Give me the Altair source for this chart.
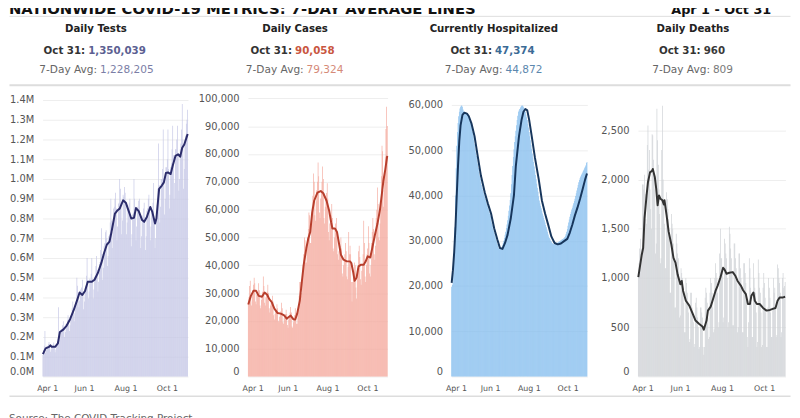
import altair as alt
import pandas as pd

# ---------------- data ----------------
N_DAYS = 214  # Apr 1 .. Oct 31, day 0 = Apr 1
x_tick_days = [0, 61, 122, 183]
x_tick_labels = ["Apr 1", "Jun 1", "Aug 1", "Oct 1"]

chart_title = "NATIONWIDE COVID-19 METRICS: 7-DAY AVERAGE LINES"
date_range = "Apr 1 - Oct 31"
source_text = "Source: The COVID Tracking Project"
panel_titles = ["Daily Tests", "Daily Cases", "Currently Hospitalized", "Daily Deaths"]
last_day_label = "Oct 31:"
avg_label = "7-Day Avg:"
last_day_values = ["1,350,039", "90,058", "47,374", "960"]
avg_values = ["1,228,205", "79,324", "44,872", "809"]

# daily tests (thousands)
tests_daily_k = [
    110, 135, 155, 230, 120, 133, 155,
    150, 165, 175, 155, 125, 137, 157,
    150, 162, 172, 153, 123, 137, 160,
    165, 180, 350, 215, 185, 207, 240,
    240, 260, 280, 250, 200, 225, 265,
    265, 285, 310, 285, 230, 260, 305,
    310, 345, 380, 340, 280, 320, 375,
    385, 500, 460, 420, 350, 385, 440,
    430, 450, 490, 425, 340, 380, 445,
    460, 510, 600, 490, 395, 430, 495,
    490, 520, 600, 495, 395, 440, 505,
    510, 560, 610, 540, 430, 480, 570,
    580, 640, 750, 620, 490, 550, 660,
    675, 730, 740, 700, 560, 610, 710,
    720, 780, 900, 790, 650, 730, 850,
    860, 900, 930, 850, 690, 760, 875,
    880, 1000, 950, 880, 720, 790, 920,
    910, 960, 930, 880, 720, 780, 870,
    850, 880, 900, 820, 660, 720, 820,
    830, 1000, 900, 860, 690, 760, 860,
    850, 890, 900, 810, 650, 710, 815,
    800, 850, 880, 810, 640, 710, 840,
    850, 900, 920, 860, 690, 760, 860,
    840, 880, 980, 800, 650, 700, 830,
    870, 950, 1180, 970, 780, 860, 1000,
    1000, 1050, 1250, 1000, 820, 900, 1060,
    1060, 1100, 1250, 1050, 850, 920, 1060,
    1080, 1150, 1270, 1120, 900, 980, 1150,
    1150, 1200, 1270, 1130, 940, 1000, 1150,
    1180, 1250, 1380, 1200, 950, 1050, 1200,
    1220, 1280, 1300, 1350.039,
]
tests_avg_days = [0, 4, 9, 11, 13, 18, 22, 25, 30, 35, 40, 45, 50, 54, 58, 62, 66, 72, 76, 81,
                  86, 90, 94, 98, 101, 106, 110, 113, 118, 122, 125, 130, 134, 137, 141, 146, 149,
                  153, 158, 161, 165, 167, 171, 175, 178, 181, 184, 188, 191, 195, 199, 202, 205,
                  208, 212, 213]
tests_avg_k = [113, 142, 150, 158, 150, 150, 167, 225, 237, 258, 290, 333, 383, 425, 413, 433, 480,
               480, 490, 525, 575, 625, 667, 683, 733, 825, 842, 850, 892, 880, 850, 800, 803, 853,
               837, 792, 783, 808, 858, 833, 775, 800, 950, 967, 983, 1030, 1033, 1025, 1067, 1117,
               1125, 1113, 1158, 1175, 1217, 1228.205]

# daily cases (thousands)
cases_daily_k = [
    26.1, 28.5, 32.5, 34.4, 27, 25.5, 29.5,
    31, 33, 35.5, 33.5, 27, 26, 29.5,
    30, 31, 33.5, 31, 25.5, 24.5, 27.5,
    29, 30.5, 36, 32.5, 26.5, 25.5, 28.5,
    29.5, 30.5, 33, 30, 24.5, 23, 25.5,
    26.5, 27.5, 29, 27, 22, 20.5, 22.5,
    23.5, 24, 26, 24.5, 20, 19.5, 21.5,
    22.5, 23.5, 26.5, 24.5, 19.5, 19, 21,
    22, 22.5, 24, 22.5, 18.5, 17.5, 20.5,
    21.5, 23, 25, 23, 18, 17.5, 19.5,
    20.5, 22, 24.5, 23, 19, 19, 23,
    26, 29, 34, 34, 29, 30, 36,
    40, 44, 50, 49, 41, 41, 46.5,
    50, 53, 59, 58, 48, 48, 56,
    61, 65, 73, 70, 58, 56, 63,
    67, 70, 77, 72, 59, 57, 64,
    67, 70, 75.5, 71, 57, 55, 61,
    64, 66, 69.5, 64, 52, 49, 55,
    56, 58, 62, 57, 46, 45, 50,
    53, 55, 57, 52, 44, 42, 45,
    46, 47, 50, 46, 37, 36, 40,
    42, 44, 48, 45, 36, 35, 39.5,
    52, 44, 47, 44, 34, 27, 34,
    36, 38, 41, 40, 32, 28, 35,
    39, 45, 47, 43, 35, 33, 38,
    40, 44, 56, 48, 36, 34, 40,
    44, 46, 54, 48, 37, 36, 40,
    48, 52, 57, 53, 44, 42, 47,
    57, 60, 68, 62, 50, 49, 55,
    62, 72, 83, 81, 61, 67, 72,
    79, 89, 97, 90.058,
]
cases_avg_days = [0, 4, 8, 12, 16, 21, 25, 29, 32, 36, 40, 45, 50, 55, 59, 62, 65, 69, 72, 75,
                  79, 82, 85, 89, 92, 95, 98, 101, 106, 111, 115, 120, 124, 127, 129, 133, 136,
                  139, 142, 146, 151, 156, 158, 161, 163, 166, 169, 173, 177, 180, 183, 187, 190,
                  194, 198, 202, 205, 207, 210, 213]
cases_avg_k = [25.9, 29, 30.8, 30.8, 29, 28.7, 30.2, 29.4, 27.9, 26.7, 24.4, 22.8, 22.6, 22, 20.8,
               21.4, 21.9, 20.6, 20.5, 22.6, 27.3, 33.8, 40.2, 46.1, 49.6, 52, 59, 63.2, 66.1, 66.7,
               65.9, 63.2, 59.6, 55.5, 53.2, 53.2, 52, 47.9, 43.8, 42, 41.4, 41.4, 40.8, 37.3, 34.4,
               35.5, 39.6, 40.2, 40.2, 41.4, 43.2, 42.8, 46.1, 50.8, 54.9, 60.2, 66.1, 70.2, 74.4,
               79.324]

# currently hospitalized (thousands)
hosp_daily_k = [
    19.8, 20.2, 20.7, 23, 27, 33, 40,
    46, 51, 54, 56, 57.5, 58.5, 59.2,
    59.6, 59.8, 59.9, 59.6, 59, 58.6, 58.4,
    58.3, 58.2, 58.1, 58, 57.9, 57.7, 57.4,
    57, 56.6, 56.1, 55.5, 54.8, 54, 53.1,
    52.2, 51.3, 50.4, 49.5, 48.7, 47.8, 47,
    46.1, 45.2, 44.4, 43.7, 43, 42.3, 41.7,
    41.2, 40.7, 40.2, 39.7, 39.2, 38.7, 38.2,
    37.8, 37.3, 36.9, 36.4, 36, 35.4, 34.7,
    34, 33.4, 32.7, 32.2, 31.7, 31.2, 30.7,
    30.2, 29.8, 29.3, 28.9, 28.4, 28.2, 28.1,
    28.1, 28.2, 28.5, 29, 29.5, 30, 30.6,
    31.3, 32, 32.8, 33.6, 34.5, 35.5, 36.6,
    37.8, 39, 40.5, 42.5, 44.5, 46.5, 48.5,
    50.2, 51.8, 53.1, 54.3, 55.5, 56.7, 57.6,
    58.5, 58.8, 59.1, 59.4, 59.6, 59.8, 59.9,
    59.8, 59.6, 59.3, 59, 58.5, 57.9, 57.3,
    56.7, 55.8, 55, 54, 53.1, 52.2, 51.2,
    50.3, 49.3, 48.4, 47.4, 46.4, 45.5, 44.5,
    43.6, 42.6, 41.7, 40.8, 39.8, 38.9, 38.3,
    37.7, 37.2, 36.6, 36, 35.5, 35, 34.5,
    34, 33.5, 33, 32.5, 32, 31.4, 30.9,
    30.6, 30.3, 30, 29.8, 29.5, 29.4, 29.3,
    29.2, 29.2, 29.3, 29.4, 29.4, 29.5, 29.6,
    29.7, 29.8, 29.9, 30, 30.1, 30.2, 30.3,
    30.4, 30.5, 30.6, 30.8, 31.1, 31.5, 32,
    32.6, 33.3, 34, 34.7, 35.3, 35.9, 36.4,
    36.9, 37.3, 37.8, 38.3, 38.8, 39.3, 39.9,
    40.5, 41.1, 41.7, 42.3, 42.9, 43.4, 43.8,
    44.2, 44.5, 44.8, 45.1, 45.4, 45.7, 46,
    46.3, 46.6, 47.2, 47.374,
]
hosp_avg_days = [0, 2, 4, 6, 8, 10, 12, 14, 17, 20, 24, 27, 31, 36, 41, 46, 52, 57, 62, 67, 72, 76,
                 80, 84, 88, 93, 98, 101, 106, 110, 113, 116, 119, 122, 126, 131, 137, 142, 147,
                 152, 157, 162, 167, 172, 177, 182, 186, 190, 194, 198, 202, 206, 210, 213]
hosp_avg_k = [20.7, 23.5, 27.5, 33, 40, 46.5, 52, 55.5, 57.8, 58.3, 58.1, 57.5, 56, 53.1, 48.7,
              44.4, 40.7, 38.2, 36, 32.7, 30.2, 28.4, 28.2, 29.5, 31.3, 34.9, 40, 46.5, 53.1, 56.7,
              58.5, 59.1, 58.8, 56.7, 53.1, 48.4, 43.6, 38.9, 36, 33.5, 30.9, 29.5, 29.2, 29.4,
              29.9, 30.4, 31.8, 33.6, 35.6, 37.3, 39.2, 41.3, 43.5, 44.872]

# daily deaths
deaths_daily = [
    1010, 1150, 1300, 1400, 1250, 1300, 1950,
    1950, 1900, 2050, 1850, 1600, 1550, 2350,
    2550, 2100, 2300, 1900, 1700, 1500, 2460,
    2450, 2200, 2050, 1900, 1250, 1350, 2720,
    2400, 2150, 1900, 1650, 1150, 1200, 2300,
    2750, 2000, 1800, 1550, 1100, 1100, 1870,
    1800, 1700, 1600, 1400, 850, 850, 1650,
    1550, 1500, 1350, 1150, 700, 700, 1450,
    1350, 1250, 1200, 950, 600, 620, 1100,
    1050, 1000, 900, 750, 450, 450, 1000,
    950, 850, 750, 650, 350, 380, 850,
    850, 700, 650, 550, 300, 330, 750,
    800, 700, 600, 500, 280, 300, 700,
    700, 650, 600, 300, 220, 300, 800,
    900, 850, 750, 600, 380, 400, 850,
    1000, 950, 850, 700, 450, 480, 1000,
    1150, 1050, 1000, 850, 500, 550, 1250,
    1500, 1200, 1200, 1050, 550, 600, 1400,
    1350, 1250, 1200, 1000, 500, 550, 1520,
    1450, 1300, 1200, 1050, 520, 520, 1350,
    1350, 1200, 1100, 950, 450, 500, 1250,
    1250, 1100, 1000, 900, 450, 450, 1150,
    1150, 1050, 950, 800, 400, 300, 550,
    1200, 1100, 900, 750, 400, 400, 1150,
    1000, 900, 850, 650, 300, 350, 1187,
    1050, 900, 850, 650, 300, 320, 900,
    1050, 950, 800, 650, 300, 300, 700,
    1000, 900, 800, 650, 400, 400, 700,
    1000, 850, 900, 700, 400, 420, 1137,
    1100, 1000, 950, 850, 400, 450, 1000,
    1050, 900, 920, 960,
]
deaths_avg_days = [0, 5, 7, 9, 12, 14, 17, 20, 21, 24, 26, 28, 30, 32, 35, 37, 38, 41, 44, 48,
                   51, 54, 57, 61, 63, 65, 69, 74, 79, 83, 88, 93, 95, 99, 101, 105, 108, 112,
                   115, 119, 123, 125, 128, 132, 137, 141, 144, 149, 152, 156, 159, 162, 164,
                   167, 169, 172, 176, 181, 186, 191, 195, 199, 202, 205, 210, 213]
deaths_avg = [1010, 1237, 1304, 1605, 1839, 1973, 2073, 2090, 2107, 2023, 1906, 1739, 1839, 1806,
              1789, 1746, 1789, 1639, 1471, 1338, 1204, 1154, 1037, 936, 970, 869, 769, 719, 635,
              568, 535, 508, 475, 568, 669, 709, 776, 869, 920, 1003, 1104, 1087, 1043, 1053,
              1060, 1020, 970, 920, 876, 836, 736, 736, 819, 853, 769, 736, 736, 696, 669, 676,
              686, 696, 769, 803, 803, 809]

tests_ticks = [0, 100000, 200000, 300000, 400000, 500000, 600000, 700000, 800000, 900000,
               1000000, 1100000, 1200000, 1300000, 1400000]
cases_ticks = [0, 10000, 20000, 30000, 40000, 50000, 60000, 70000, 80000, 90000, 100000]
hosp_ticks = [0, 10000, 20000, 30000, 40000, 50000, 60000]
deaths_ticks = [0, 500, 1000, 1500, 2000, 2500]

# ---------------- layout / style ----------------
FONT = "DejaVu Sans"
PLOT_TOP = 95.0
H = 283
PLOT_LEFT = [42.0, 249.3, 455.0, 643.3]
PLOT_W = [147.3, 141.4, 137.7, 149.4]
HEAD_X = [96, 297, 498, 699]
SPLIT_LAST = [86.7, 295.5, 497.7, 708.3]
SPLIT_AVG = [98.7, 307.2, 508.3, 717.7]
Y_MAX = [1415000, 100500, 61750, 2838]
BAR_COL = ["#c6c8e6", "#f4a99d", "#84bdee", "#cfd2d6"]
LINE_COL = ["#2b2c6b", "#b73e2c", "#17365c", "#333333"]
LAST_COL = ["#5c5f92", "#c9563f", "#3b6b96", "#3a3a3a"]
AVG_COL = ["#7b7ea6", "#d58a78", "#5c87ae", "#7a7a7a"]

x_label_expr = " : ".join(
    f"datum.value == {d} ? '{t}'" for d, t in zip(x_tick_days, x_tick_labels)
) + " : ''"
zero_bottom = {"condition": {"test": "datum.value === 0", "value": "bottom"}, "value": "middle"}


def one(text):
    return pd.DataFrame({"t": [text]})


def text_mark(k, text, sx, ry, align, size, weight, color, baseline="middle", font=FONT):
    return alt.Chart(one(text)).mark_text(
        align=align, baseline=baseline, font=font, fontSize=size,
        fontWeight=weight, color=color
    ).encode(text="t:N", x=alt.value(sx - PLOT_LEFT[k]), y=alt.value(ry))


def rule_mark(k, sx1, sx2, sy, color, width):
    return alt.Chart(one("r")).mark_rule(color=color, strokeWidth=width).encode(
        x=alt.value(sx1 - PLOT_LEFT[k]), x2=alt.value(sx2 - PLOT_LEFT[k]),
        y=alt.value(sy - PLOT_TOP)
    )


def make_panel(k, daily, avg_days, avg_vals, ticks, y_axis_kw):
    bars_df = pd.DataFrame({"day": list(range(N_DAYS)), "value": daily})
    bars_df["day_end"] = bars_df["day"] + 1
    bars_df["base"] = 0
    line_df = pd.DataFrame({"day": [d + 0.5 for d in avg_days], "value": avg_vals})

    xs = alt.Scale(domain=[0, N_DAYS], range=[0, PLOT_W[k]], nice=False, zero=False)
    ys = alt.Scale(domain=[0, Y_MAX[k]], nice=False, zero=True)
    x_axis = alt.Axis(values=x_tick_days, labelExpr=x_label_expr)
    y_axis = alt.Axis(values=ticks, labelBaseline=zero_bottom, **y_axis_kw)

    bars = alt.Chart(bars_df).mark_bar(color=BAR_COL[k], strokeWidth=0).encode(
        x=alt.X("day:Q", scale=xs, title=None, axis=x_axis),
        x2="day_end:Q",
        y=alt.Y("value:Q", scale=ys, title=None, axis=y_axis),
        y2="base:Q",
    )
    line = alt.Chart(line_df).mark_line(
        color=LINE_COL[k], strokeWidth=2, strokeJoin="round"
    ).encode(x=alt.X("day:Q", scale=xs, title=None, axis=x_axis),
             y=alt.Y("value:Q", scale=ys, title=None, axis=y_axis))

    layers = [bars, line,
              text_mark(k, panel_titles[k], HEAD_X[k], -69, "center", 10.3, "bold", "#222222"),
              text_mark(k, last_day_label, SPLIT_LAST[k] - 1.5, -47, "right", 10.4, "bold", "#333333"),
              text_mark(k, last_day_values[k], SPLIT_LAST[k] + 1.5, -47, "left", 10.4, "bold", LAST_COL[k]),
              text_mark(k, avg_label, SPLIT_AVG[k] - 1.5, -27, "right", 10.7, "normal", "#666666"),
              text_mark(k, avg_values[k], SPLIT_AVG[k] + 1.5, -27, "left", 10.7, "normal", AVG_COL[k])]

    if k == 0:
        layers += [
            # invisible anchor fixing the top of the drawing
            rule_mark(k, 10, 20, PLOT_TOP - 110, "#ffffff", 1),
            rule_mark(k, 8.5, 799.5, 13.3, "#dddddd", 1),
            rule_mark(k, 8.5, 799.5, 83.0, "#dddddd", 2),
            rule_mark(k, 8.5, 799.5, 398.0, "#dddddd", 1.5),
            text_mark(k, chart_title, 8, 11 - PLOT_TOP, "left", 15, "bold", "#111111",
                      baseline="alphabetic"),
            text_mark(k, date_range, 780, 11 - PLOT_TOP, "right", 13, "bold", "#111111",
                      baseline="alphabetic"),
            text_mark(k, source_text, 8, 416 - PLOT_TOP, "left", 10.5, "normal", "#666666",
                      baseline="top"),
        ]
    view_w = (PLOT_LEFT[k + 1] - PLOT_LEFT[k]) if k < 3 else PLOT_W[k]
    return alt.layer(*layers).properties(width=view_w, height=H)


tests_daily = [v * 1000 for v in tests_daily_k]
tests_avg = [v * 1000 for v in tests_avg_k]
cases_daily = [v * 1000 for v in cases_daily_k]
cases_avg = [v * 1000 for v in cases_avg_k]
hosp_daily = [v * 1000 for v in hosp_daily_k]
hosp_avg = [v * 1000 for v in hosp_avg_k]

p1 = make_panel(0, tests_daily, tests_avg_days, tests_avg, tests_ticks,
                {"labelExpr": "format(datum.value / 1000000, '.1f') + 'M'"})
p2 = make_panel(1, cases_daily, cases_avg_days, cases_avg, cases_ticks, {"format": ",d"})
p3 = make_panel(2, hosp_daily, hosp_avg_days, hosp_avg, hosp_ticks, {"format": ",d"})
p4 = make_panel(3, deaths_daily, deaths_avg_days, deaths_avg, deaths_ticks, {"format": ",d"})

chart = alt.hconcat(p1, p2, p3, p4, spacing=0, bounds="flush").properties(
    padding={"top": -23.5, "left": 0, "right": 0, "bottom": 0}
).configure_view(stroke=None).configure_axis(
    labelFont=FONT, labelColor="#555555", domain=False, ticks=False, tickSize=0,
    gridColor="#eeeeee", gridWidth=1, labelOverlap=False
).configure_axisX(
    labelFontSize=8, labelPadding=8, labelFlush=True, labelFlushOffset=6, grid=False
).configure_axisY(
    labelFontSize=10, labelPadding=9, labelFlush=False, grid=True
)

chart.save("out.html", embed_options={"renderer": "svg", "actions": False})
